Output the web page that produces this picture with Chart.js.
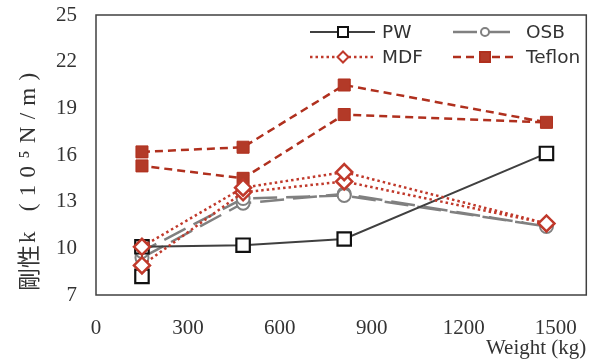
<!DOCTYPE html>
<html>
<head>
<meta charset="utf-8">
<script src="https://cdn.jsdelivr.net/npm/chart.js@4.4.0/dist/chart.umd.min.js"></script>
<style>
    html, body { margin: 0; padding: 0; background: #fff; }
    #wrap { width: 598px; height: 363px; }
</style>
</head>
<body>
<div id="wrap"><canvas id="stiffnessChart" width="598" height="363"></canvas></div>
<script>
// Values (load goes out to 1470 kg and back)
const pathWeights = [150, 480, 810, 1470, 810, 480, 150];
const pwWeights = [150, 150, 480, 810, 1470];
const pwStiffness = [8.2, 10.1, 10.2, 10.6, 16.1];
const osbStiffness = [9.4, 12.9, 13.5, 11.4, 13.4, 13.2, 9.8];
const mdfStiffness = [8.9, 13.6, 14.3, 11.6, 14.9, 13.9, 10.1];
const teflonStiffness = [16.2, 16.5, 20.5, 18.1, 18.6, 14.5, 15.3];

const xTicks = [0, 300, 600, 900, 1200, 1500];
const yTicks = [7, 10, 13, 16, 19, 22, 25];

const serif = '"Liberation Serif", "DejaVu Serif", "Noto Sans CJK JP", serif';
const textColor = '#333333';

function toPoints(xs, ys) {
    return ys.map((y, i) => ({ x: xs[i], y: y }));
}

// frame round the plot area
const framePlugin = {
    id: 'frame',
    beforeDatasetsDraw(chart) {
        const a = chart.chartArea;
        const ctx = chart.ctx;
        ctx.save();
        ctx.strokeStyle = '#404040';
        ctx.lineWidth = 1.5;
        ctx.strokeRect(a.left, a.top, a.right - a.left, a.bottom - a.top);
        ctx.restore();
    }
};

function drawMarker(ctx, style, x, y, r) {
    ctx.beginPath();
    if (style === 'rect') {
        ctx.rect(x - r, y - r, 2 * r, 2 * r);
    } else if (style === 'circle') {
        ctx.arc(x, y, r, 0, Math.PI * 2);
    } else {
        ctx.moveTo(x, y - r);
        ctx.lineTo(x + r, y);
        ctx.lineTo(x, y + r);
        ctx.lineTo(x - r, y);
        ctx.closePath();
    }
    ctx.fill();
    ctx.stroke();
}

// legend inside the plot, two columns
const legendItems = [
    { ds: 0, x0: 310, x1: 375, mx: 343, tx: 382, y: 32, r: 5 },
    { ds: 1, x0: 453, x1: 518, mx: 485, tx: 526, y: 32, r: 4 },
    { ds: 2, x0: 310, x1: 375, mx: 343, tx: 382, y: 57, r: 5.5 },
    { ds: 3, x0: 453, x1: 518, mx: 485, tx: 526, y: 57, r: 5 }
];

const legendPlugin = {
    id: 'insideLegend',
    afterDraw(chart) {
        const ctx = chart.ctx;
        legendItems.forEach(item => {
            const ds = chart.data.datasets[item.ds];
            ctx.save();
            ctx.strokeStyle = ds.borderColor;
            ctx.lineWidth = ds.borderWidth;
            ctx.setLineDash(ds.borderDash || []);
            ctx.beginPath();
            ctx.moveTo(item.x0, item.y);
            ctx.lineTo(item.x1, item.y);
            ctx.stroke();
            ctx.setLineDash([]);
            ctx.fillStyle = ds.pointBackgroundColor;
            ctx.strokeStyle = ds.pointBorderColor;
            ctx.lineWidth = 2;
            drawMarker(ctx, ds.pointStyle, item.mx, item.y, item.r);
            ctx.fillStyle = textColor;
            ctx.font = '18.5px "DejaVu Sans", "Noto Sans", sans-serif';
            ctx.textAlign = 'left';
            ctx.textBaseline = 'middle';
            ctx.fillText(ds.label, item.tx, item.y + 1);
            ctx.restore();
        });
    }
};

// rotated y title: kanji tight, the latin part stretched like the original
const yTitlePlugin = {
    id: 'yTitle',
    afterDraw(chart) {
        const ctx = chart.ctx;
        const head = '剛性';
        const tail = 'k (10⁵N/m)';
        const bottomY = 291;
        const topY = 73;
        ctx.save();
        ctx.translate(28, bottomY);
        ctx.rotate(-Math.PI / 2);
        ctx.fillStyle = textColor;
        ctx.textAlign = 'left';
        ctx.textBaseline = 'middle';
        ctx.font = '23px "Noto Sans CJK JP", sans-serif';
        ctx.fillText(head, 0, 0);
        const headW = ctx.measureText(head).width;
        ctx.font = '23px ' + serif;
        const tailW = ctx.measureText(tail).width;
        const room = (bottomY - topY) - headW - 2;
        const spacing = Math.max(0, (room - tailW) / (tail.length - 1));
        ctx.letterSpacing = spacing.toFixed(1) + 'px';
        ctx.fillText(tail, headW + 2, 1);
        ctx.restore();
    }
};

new Chart(document.getElementById('stiffnessChart').getContext('2d'), {
    type: 'scatter',
    data: {
        datasets: [
            {
                label: 'PW',
                data: toPoints(pwWeights, pwStiffness),
                showLine: true,
                borderColor: '#404040',
                borderWidth: 2,
                pointStyle: 'rect',
                pointRadius: 9.5,
                pointBackgroundColor: '#ffffff',
                pointBorderColor: '#111111',
                pointBorderWidth: 2.2,
                order: 1
            },
            {
                label: 'OSB',
                data: toPoints(pathWeights, osbStiffness),
                showLine: true,
                borderColor: '#808080',
                borderWidth: 2.5,
                borderDash: [24, 9],
                pointStyle: 'circle',
                pointRadius: 6.5,
                pointBackgroundColor: '#ffffff',
                pointBorderColor: '#808080',
                pointBorderWidth: 2,
                order: 2
            },
            {
                label: 'MDF',
                data: toPoints(pathWeights, mdfStiffness),
                showLine: true,
                borderColor: '#C0392B',
                borderWidth: 2.5,
                borderDash: [2.5, 3],
                pointStyle: 'rectRot',
                pointRadius: 8,
                pointBackgroundColor: '#ffffff',
                pointBorderColor: '#C0392B',
                pointBorderWidth: 2.5,
                order: 0
            },
            {
                label: 'Teflon',
                data: toPoints(pathWeights, teflonStiffness),
                showLine: true,
                borderColor: '#B0301E',
                borderWidth: 2.5,
                borderDash: [8, 5],
                pointStyle: 'rect',
                pointRadius: 8.5,
                pointBackgroundColor: '#B33A28',
                pointBorderColor: '#B0301E',
                pointBorderWidth: 1,
                order: 3
            }
        ]
    },
    options: {
        responsive: false,
        animation: false,
        layout: { padding: { top: 15, right: 5, left: 0, bottom: 0 } },
        plugins: {
            legend: { display: false },
            tooltip: { enabled: false }
        },
        elements: { line: { tension: 0 } },
        scales: {
            x: {
                type: 'linear',
                min: 0,
                max: 1600,
                afterBuildTicks: axis => { axis.ticks = xTicks.map(v => ({ value: v })); },
                afterFit: axis => { axis.height = 68; axis.paddingLeft = 0; axis.paddingRight = 0; },
                grid: { display: false, drawTicks: false },
                border: { display: false },
                ticks: {
                    color: textColor,
                    font: { family: serif, size: 21 },
                    padding: 21,
                    maxRotation: 0,
                    callback: value => String(value)
                },
                title: {
                    display: true,
                    text: 'Weight (kg)',
                    align: 'end',
                    color: textColor,
                    font: { family: serif, size: 21 },
                    padding: { top: 0, bottom: 2 }
                }
            },
            y: {
                min: 7,
                max: 25,
                afterBuildTicks: axis => { axis.ticks = yTicks.map(v => ({ value: v })); },
                afterFit: axis => { axis.width = 96; axis.paddingTop = 0; axis.paddingBottom = 0; },
                grid: { display: false, drawTicks: false },
                border: { display: false },
                ticks: {
                    color: textColor,
                    font: { family: serif, size: 21 },
                    padding: 19,
                    callback: value => String(value)
                }
            }
        }
    },
    plugins: [framePlugin, legendPlugin, yTitlePlugin]
});
</script>
</body>
</html>
